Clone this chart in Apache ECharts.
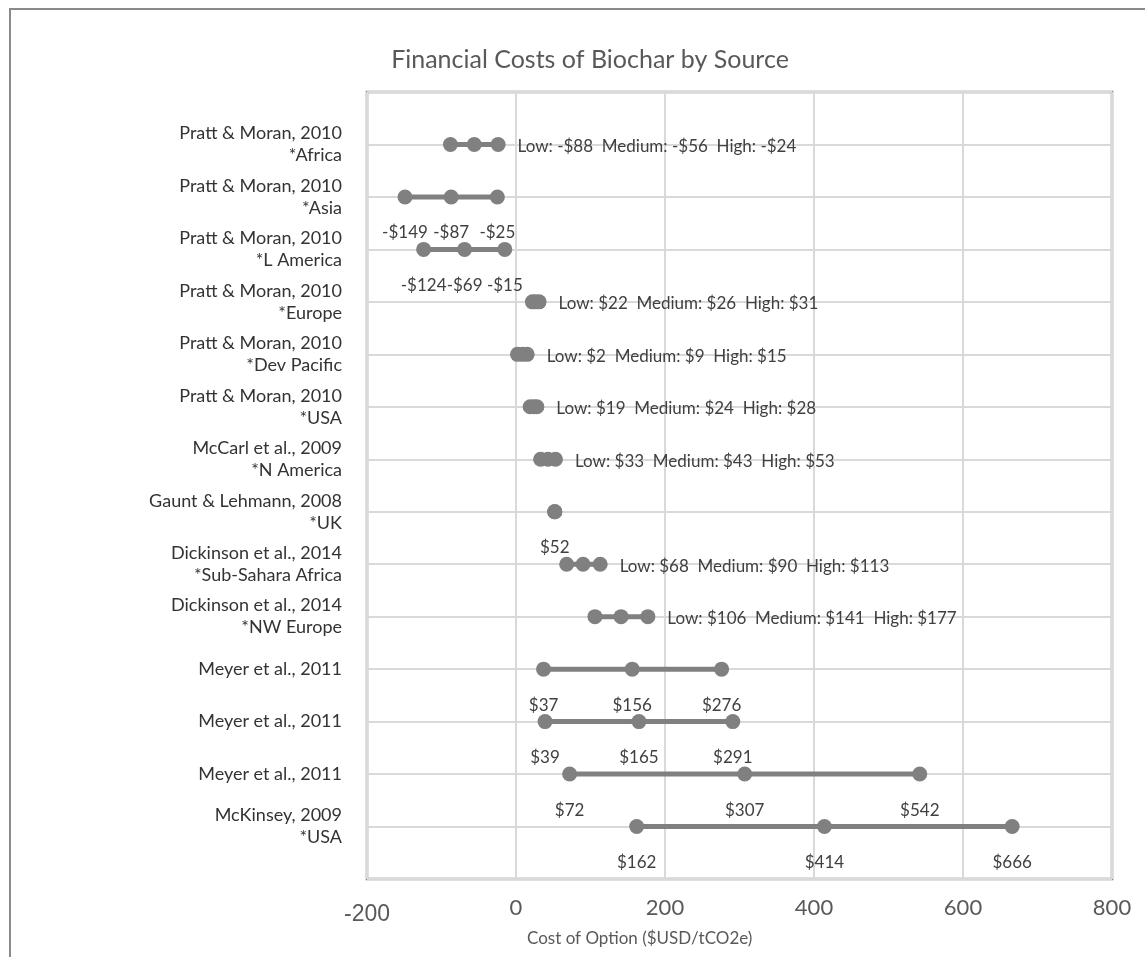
<!DOCTYPE html>
<html>
<head>
<meta charset="utf-8">
<script src="https://cdn.jsdelivr.net/npm/echarts@6/dist/echarts.min.js"></script>
<style>
  html, body { margin: 0; padding: 0; background: #ffffff; }
  #chart { width: 1145px; height: 957px; }
</style>
</head>
<body>
<div id="chart"></div>
<script>
// Sources, listed top to bottom
const categories = [
  "Pratt & Moran, 2010\n*Africa",
  "Pratt & Moran, 2010\n*Asia",
  "Pratt & Moran, 2010\n*L America",
  "Pratt & Moran, 2010\n*Europe",
  "Pratt & Moran, 2010\n*Dev Pacific",
  "Pratt & Moran, 2010\n*USA",
  "McCarl et al., 2009\n*N America",
  "Gaunt & Lehmann, 2008\n*UK",
  "Dickinson et al., 2014\n*Sub-Sahara Africa",
  "Dickinson et al., 2014\n*NW Europe",
  "Meyer et al., 2011",
  "Meyer et al., 2011",
  "Meyer et al., 2011",
  "McKinsey, 2009\n*USA"
];

// Cost estimates, $USD per tCO2e
const lowCost    = [-88, -149, -124, 22,  2, 19, 33, 52,  68, 106,  37,  39,  72, 162];
const mediumCost = [-56,  -87,  -69, 26,  9, 24, 43, 52,  90, 141, 156, 165, 307, 414];
const highCost   = [-24,  -25,  -15, 31, 15, 28, 53, 52, 113, 177, 276, 291, 542, 666];

const xTicks = [-200, 0, 200, 400, 600, 800];

// Where each row's value labels sit: one summary label to the right, or one label under each point
const labelPlacement = ['right', 'below', 'below', 'right', 'right', 'right', 'right',
                        'below', 'right', 'right', 'below', 'below', 'below', 'below'];

const FONT = 'Lato, "Open Sans", sans-serif';
const GREY = '#808080';
const n = categories.length;
const money = v => (v < 0 ? '-$' : '$') + Math.abs(v);

const series = categories.map((name, i) => {
  const y = n - i;
  const vals = [lowCost[i], mediumCost[i], highCost[i]];
  const place = labelPlacement[i];
  const data = vals.map((v, k) => {
    const item = { value: [v, y] };
    if (place === 'right') {
      if (k === 2) {
        item.label = {
          show: true, position: 'right', distance: 12, offset: [0, 2],
          formatter: 'Low: ' + money(vals[0]) + '  Medium: ' + money(vals[1]) + '  High: ' + money(vals[2])
        };
      }
    } else if (k === 0 || v !== vals[k - 1]) {
      item.label = { show: true, position: 'inside', offset: [0, 36], formatter: money(v) };
    }
    return item;
  });
  return {
    type: 'line',
    name: name,
    data: data,
    symbol: 'circle',
    symbolSize: 15,
    itemStyle: { color: GREY },
    lineStyle: { color: GREY, width: 5 },
    label: { show: false, color: '#404040', fontFamily: FONT, fontSize: 17 },
    emphasis: { disabled: true },
    silent: true,
    animation: false
  };
});

const chart = echarts.init(document.getElementById('chart'), null, { renderer: 'canvas' });
chart.setOption({
  animation: false,
  backgroundColor: '#ffffff',
  title: {
    text: 'Financial Costs of Biochar by Source',
    left: 585, top: 42, textAlign: 'center',
    textStyle: { fontFamily: FONT, fontSize: 25, fontWeight: 'normal', color: '#595959' }
  },
  graphic: [
    {
      type: 'rect', z: -10, silent: true,
      shape: { x: 10, y: 9, width: 1200, height: 1000 },
      style: { fill: 'none', stroke: '#8a8a8a', lineWidth: 2 }
    },
    {
      type: 'text', left: 527, top: 930, silent: true,
      style: { text: 'Cost of Option ($USD/tCO2e)', fontFamily: FONT, fontSize: 17, fill: '#595959' }
    }
  ],
  grid: {
    left: 367, right: 33, top: 92, bottom: 78,
    show: true, borderColor: GREY, borderWidth: 2.5,
    outerBoundsMode: 'none'
  },
  xAxis: {
    type: 'value',
    min: xTicks[0], max: xTicks[xTicks.length - 1], interval: 200,
    axisLine: { show: false },
    axisTick: { show: false },
    splitLine: { show: true, lineStyle: { color: '#d9d9d9', width: 2 } },
    axisLabel: {
      show: true, showMinLabel: true, showMaxLabel: true,
      margin: 18, color: '#595959', fontFamily: FONT, fontSize: 22,
      formatter: v => (v === xTicks[0] ? '{neg|' + v + '}' : String(v)),
      rich: { neg: { fontFamily: '"Liberation Sans", Arial, sans-serif', fontSize: 23, color: '#595959', padding: [6, 0, 0, 0] } }
    }
  },
  yAxis: {
    type: 'value',
    min: 0, max: n + 1, interval: 1,
    axisLine: { show: false },
    axisTick: { show: false },
    splitLine: { show: true, lineStyle: { color: '#d9d9d9', width: 2 } },
    axisLabel: {
      show: true, margin: 25, align: 'right',
      color: '#333333', fontFamily: FONT, fontSize: 18, lineHeight: 22,
      formatter: v => (v >= 1 && v <= n ? categories[n - v] : '')
    }
  },
  series: series
});
</script>
</body>
</html>
